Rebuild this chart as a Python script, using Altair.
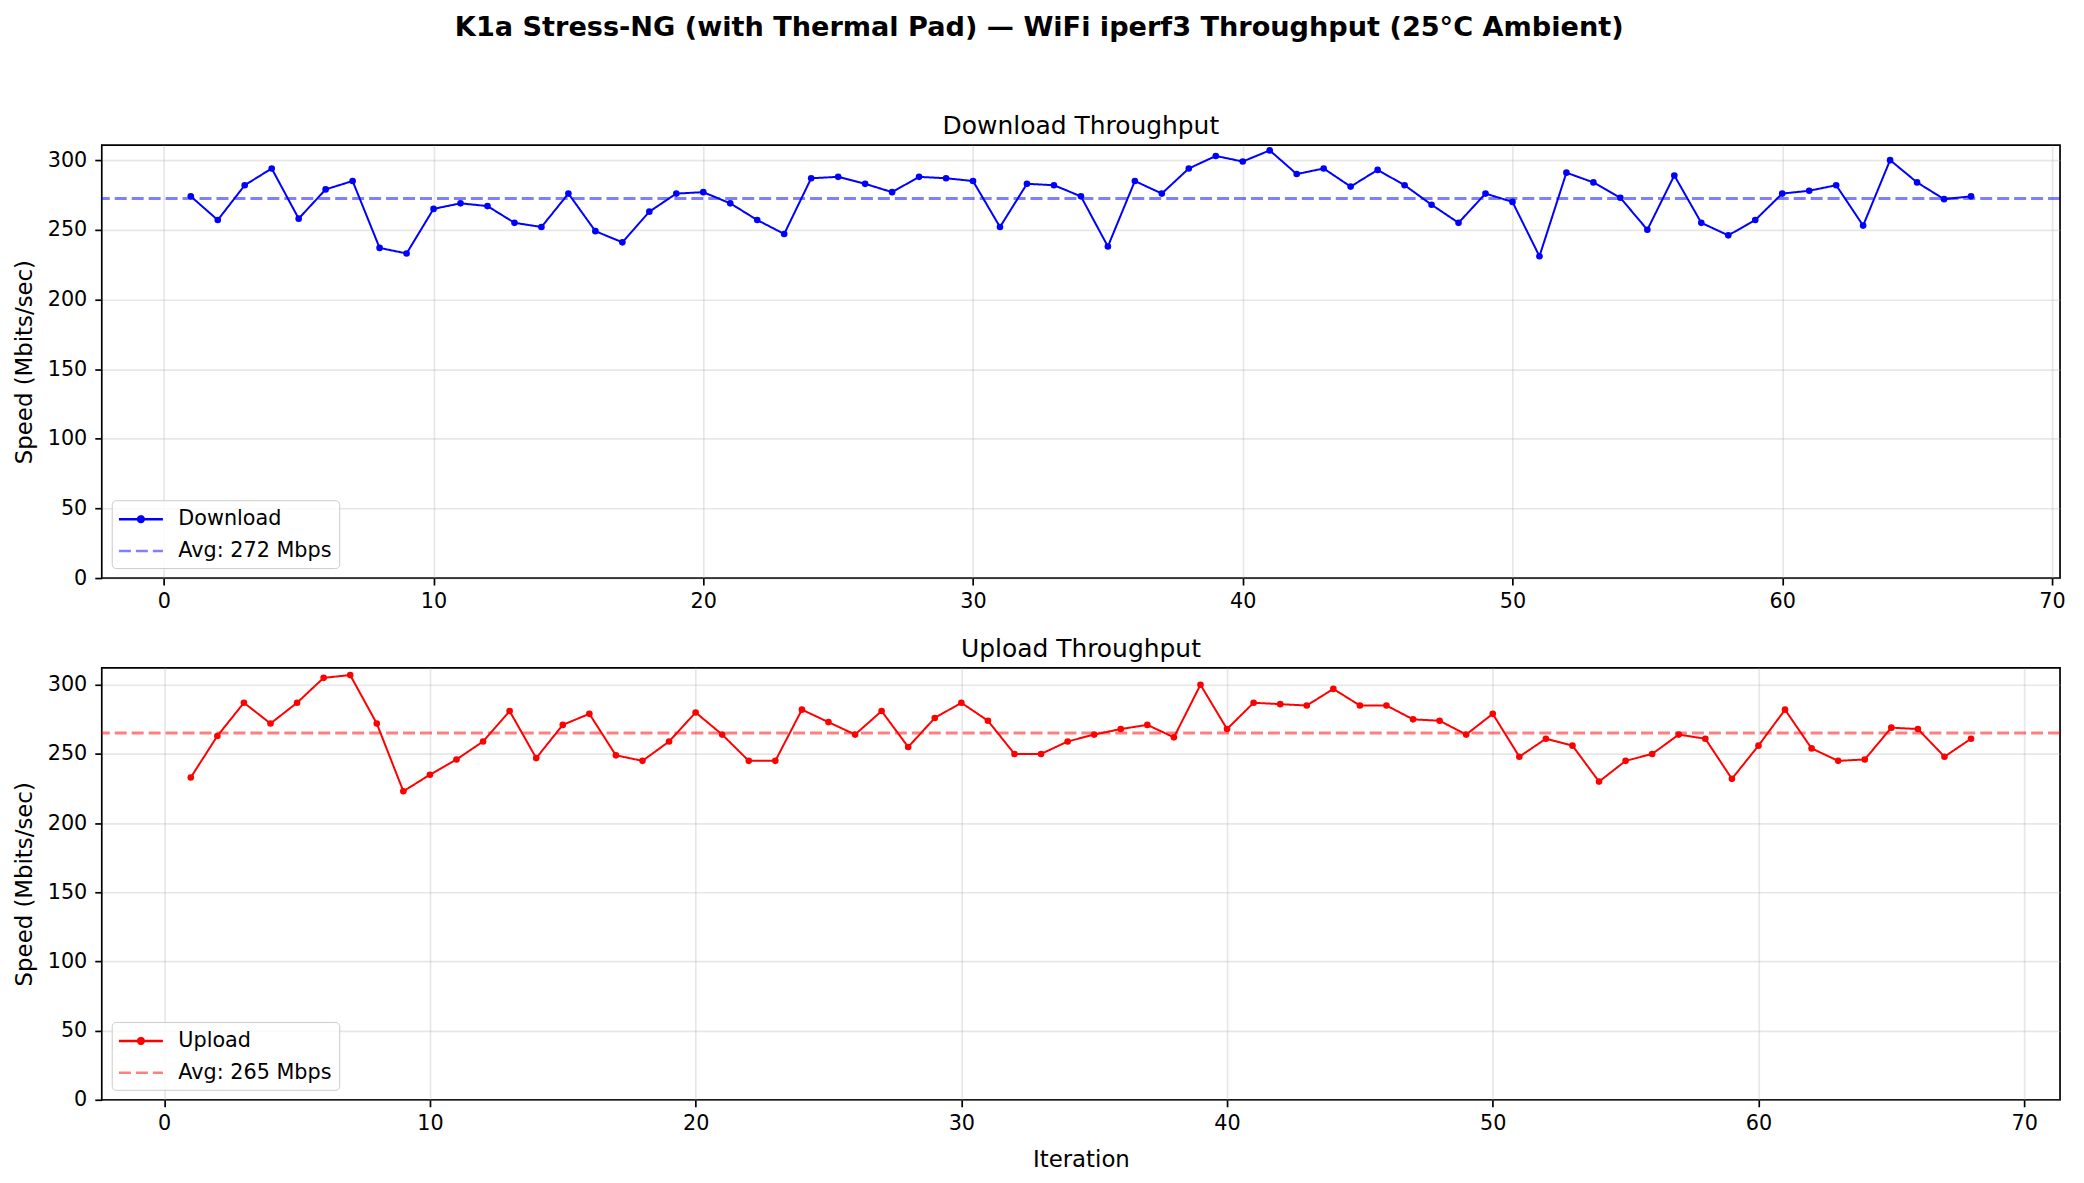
import altair as alt
import pandas as pd

# ---------------- data ----------------
download_iter = list(range(1, 68))
download_speed = [274, 257, 282, 294, 258, 279, 285, 237, 233, 265,
                  269, 267, 255, 252, 276, 249, 241, 263, 276, 277,
                  269, 257, 247, 287, 288, 283, 277, 288, 287, 285,
                  252, 283, 282, 274, 238, 285, 276, 294, 303, 299,
                  307, 290, 294, 281, 293, 282, 268, 255, 276, 270,
                  231, 291, 284, 273, 250, 289, 255, 246, 257, 276,
                  278, 282, 253, 300, 284, 272, 274]

upload_iter = list(range(1, 69))
upload_speed = [233, 263, 287, 272, 287, 305, 307, 272, 223, 235,
                246, 259, 281, 247, 271, 279, 249, 245, 259, 280,
                264, 245, 245, 282, 273, 264, 281, 255, 276, 287,
                274, 250, 250, 259, 264, 268, 271, 262, 300, 268,
                287, 286, 285, 297, 285, 285, 275, 274, 264, 279,
                248, 261, 256, 230, 245, 250, 264, 261, 232, 256,
                282, 254, 245, 246, 269, 268, 248, 261]

x_ticks = [0, 10, 20, 30, 40, 50, 60, 70]
y_ticks = [0, 50, 100, 150, 200, 250, 300]

FONT = "DejaVu Sans"
# legend symbols (unit = sqrt(symbolSize)/2 = 10.5 px)
PATH_DOT = "M-2.1,0L2.1,0M-0.27,0A0.27,0.27,0,1,1,0.27,0A0.27,0.27,0,1,1,-0.27,0Z"
PATH_LINE = "M-2.1,0L2.1,0"


def panel(iters, values, name, color, avg_color, title, xdomain, ydomain, xtitle, height):
    avg = sum(values) / len(values)
    avg_label = f"Avg: {avg:.0f} Mbps"
    domain = [name, avg_label]

    df = pd.DataFrame({"iter": iters, "speed": values, "series": name})
    avg_df = pd.DataFrame({"speed": [avg], "series": [avg_label]})
    key_df = pd.DataFrame({"iter": [0, 0], "speed": [-100, -100], "series": domain})

    legend = alt.Legend(
        title=None, orient="bottom-left", offset=10, padding=7, rowPadding=10,
        labelFont=FONT, labelFontSize=20.8, labelColor="black", labelLimit=400,
        symbolSize=441, symbolStrokeWidth=2.5, symbolFillColor=color,
        symbolOffset=10.25, labelOffset=25.5,
        strokeColor="#cccccc", fillColor="rgba(255,255,255,0.8)",
        cornerRadius=4,
    )
    color_enc = alt.Color("series:N", scale=alt.Scale(domain=domain, range=[color, avg_color]), legend=legend)
    dash_enc = alt.StrokeDash("series:N", scale=alt.Scale(domain=domain, range=[[1, 0], [12, 5]]), legend=legend)
    shape_enc = alt.Shape("series:N", scale=alt.Scale(domain=domain, range=[PATH_DOT, PATH_LINE]), legend=legend)

    x_enc = alt.X("iter:Q", scale=alt.Scale(domain=xdomain, nice=False, zero=False),
                  axis=alt.Axis(values=x_ticks, labelPadding=7, titlePadding=15), title=xtitle)
    y_enc = alt.Y("speed:Q", scale=alt.Scale(domain=ydomain, nice=False, zero=False),
                  axis=alt.Axis(values=y_ticks, labelPadding=8, titlePadding=11),
                  title="Speed (Mbits/sec)")

    key = alt.Chart(key_df).mark_point(filled=True, clip=True, opacity=1).encode(
        x=x_enc, y=y_enc, color=color_enc, shape=shape_enc, strokeDash=dash_enc)
    line = alt.Chart(df).mark_line(strokeWidth=2).encode(
        x=x_enc, y=y_enc, color=color_enc, strokeDash=dash_enc)
    pts = alt.Chart(df).mark_point(filled=True, size=44, opacity=1, shape="circle").encode(
        x=x_enc, y=y_enc, color=color_enc)
    rule = alt.Chart(avg_df).mark_rule(strokeWidth=3.1).encode(
        y=y_enc, color=color_enc, strokeDash=dash_enc)

    return alt.layer(key, line, pts, rule).properties(
        width=1963, height=height,
        title=alt.TitleParams(text=title, fontSize=25, fontWeight="normal", font=FONT,
                              anchor="middle", baseline="alphabetic", offset=-14, color="black"),
    )


top = panel(download_iter, download_speed, "Download", "#0000ff", "rgba(0,0,255,0.5)",
            "Download Throughput", [-2.3, 70.3], [0, 310.8], None, 434)
bottom = panel(upload_iter, upload_speed, "Upload", "#ff0000", "rgba(255,0,0,0.5)",
               "Upload Throughput", [-2.35, 71.35], [0, 312.25], "Iteration", 433)

chart = alt.vconcat(top, bottom, spacing=23).resolve_scale(
    color="independent", strokeDash="independent", shape="independent"
).properties(
    title=alt.TitleParams(
        text="K1a Stress-NG (with Thermal Pad) — WiFi iperf3 Throughput (25°C Ambient)",
        fontSize=27.2, fontWeight="bold", font=FONT, anchor="middle",
        baseline="alphabetic", offset=50, color="black"),
    padding={"left": 4, "top": 4, "right": 10, "bottom": 10},
).configure_view(
    stroke="black", strokeWidth=1.7
).configure_axis(
    labelFont=FONT, labelFontSize=20.8, labelColor="black",
    titleFont=FONT, titleFontSize=22.9, titleFontWeight="normal", titleColor="black",
    tickColor="black", tickWidth=1.7, tickSize=7, domain=False,
    grid=True, gridColor="#b0b0b0", gridOpacity=0.3, gridWidth=1.67,
)

chart.save("out.html", embed_options={"renderer": "svg", "actions": False})
